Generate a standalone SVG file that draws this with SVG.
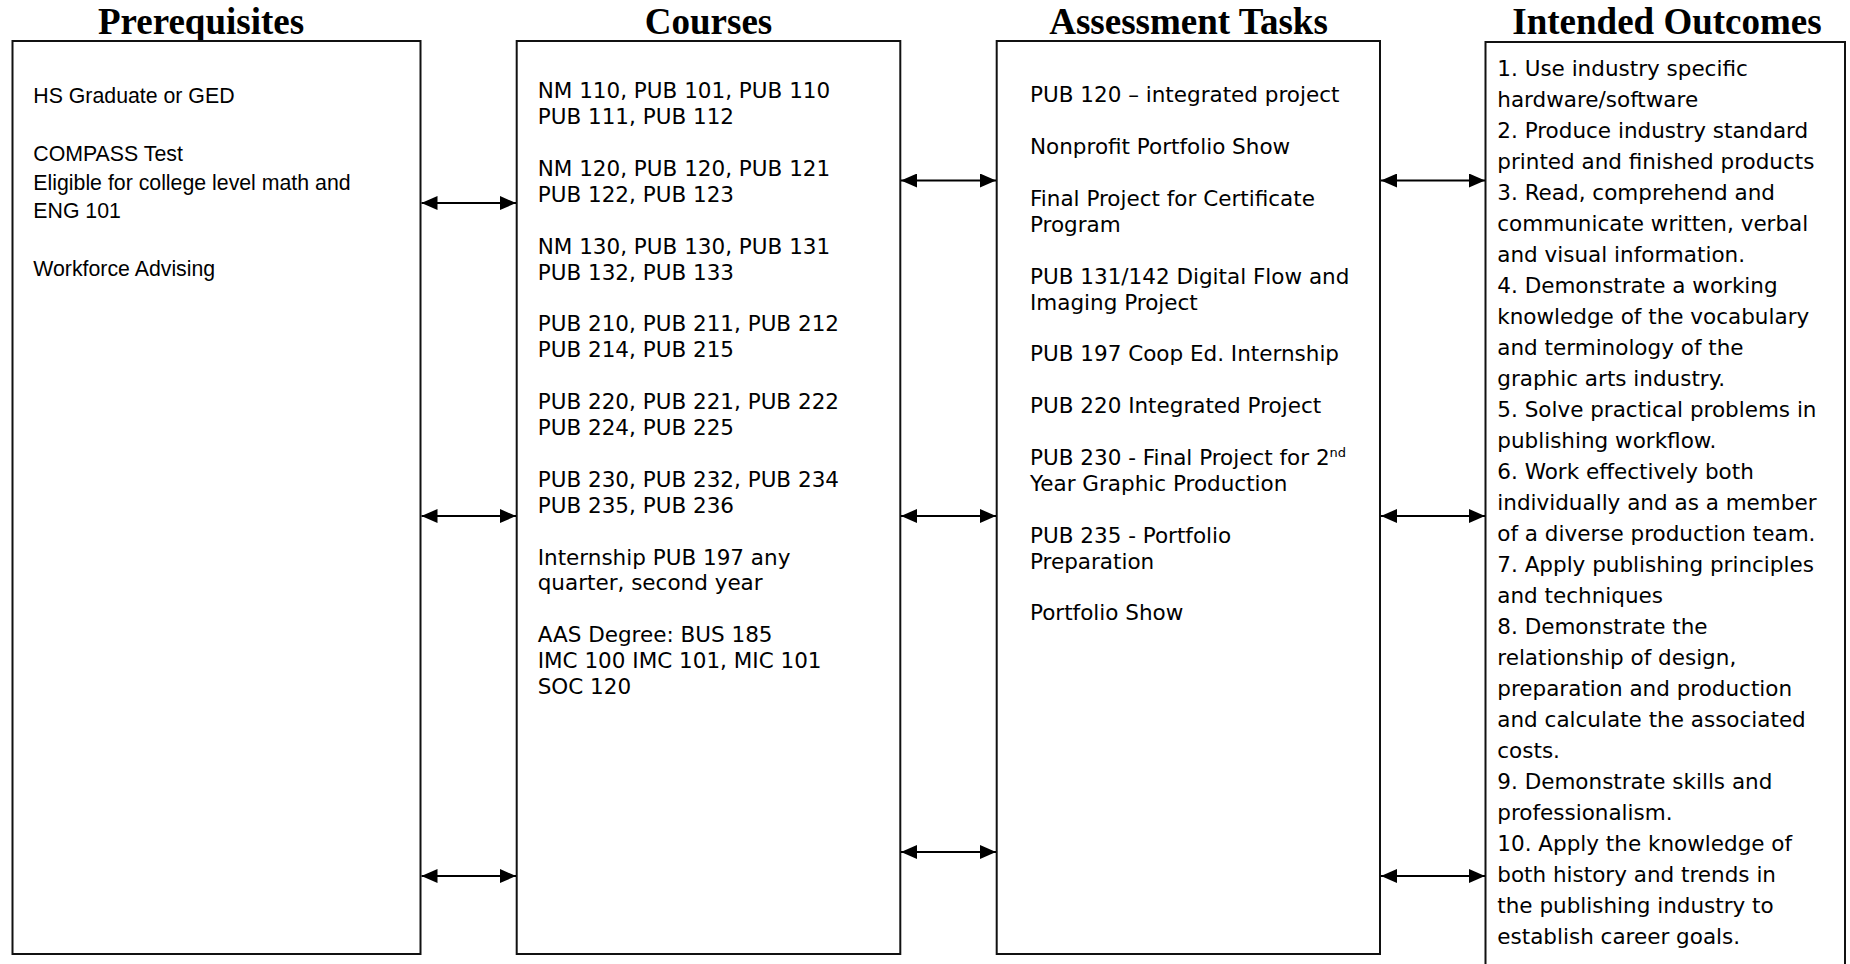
<svg xmlns="http://www.w3.org/2000/svg" width="1850" height="964" viewBox="0 0 1850 964">
<style>
.bg{fill:#fff}
.box{fill:#fff;stroke:#111;stroke-width:2}
.title{font-family:"Liberation Serif","Times New Roman",serif;font-weight:bold;font-size:37px;fill:#000;text-anchor:middle}
.arial{font-family:"Liberation Sans",Arial,sans-serif;font-size:21.3px;fill:#000}
.verd{font-family:"DejaVu Sans",Verdana,sans-serif;font-size:21.5px;fill:#000}
.sup{font-size:13px}
.conn line{stroke:#000;stroke-width:2;marker-start:url(#ah);marker-end:url(#ah)}
</style>
<defs>
<marker id="ah" viewBox="0 0 16 14" refX="16" refY="7" markerWidth="16" markerHeight="14" markerUnits="userSpaceOnUse" orient="auto-start-reverse">
<path d="M0,0 L16,7 L0,14 z" fill="#000"/>
</marker>
</defs>
<rect class="bg" x="0" y="0" width="1850" height="964"/>

<g id="prerequisites">
<text class="title" x="201" y="33.5">Prerequisites</text>
<rect class="box" x="12.5" y="41" width="408" height="913"/>
<text class="arial">
<tspan x="33.3" y="103.3">HS Graduate or GED</tspan>
<tspan x="33.3" y="160.8">COMPASS Test</tspan>
<tspan x="33.3" y="189.5">Eligible for college level math and</tspan>
<tspan x="33.3" y="218.3">ENG 101</tspan>
<tspan x="33.3" y="275.8">Workforce Advising</tspan>
</text>
</g>

<g id="courses">
<text class="title" x="708.5" y="33.5">Courses</text>
<rect class="box" x="516.7" y="41" width="383.6" height="913"/>
<text class="verd">
<tspan x="537.7" y="98.3">NM 110, PUB 101, PUB 110</tspan>
<tspan x="537.7" y="124.2">PUB 111, PUB 112</tspan>
<tspan x="537.7" y="176">NM 120, PUB 120, PUB 121</tspan>
<tspan x="537.7" y="201.9">PUB 122, PUB 123</tspan>
<tspan x="537.7" y="253.7">NM 130, PUB 130, PUB 131</tspan>
<tspan x="537.7" y="279.6">PUB 132, PUB 133</tspan>
<tspan x="537.7" y="331.4">PUB 210, PUB 211, PUB 212</tspan>
<tspan x="537.7" y="357.3">PUB 214, PUB 215</tspan>
<tspan x="537.7" y="409.1">PUB 220, PUB 221, PUB 222</tspan>
<tspan x="537.7" y="435">PUB 224, PUB 225</tspan>
<tspan x="537.7" y="486.8">PUB 230, PUB 232, PUB 234</tspan>
<tspan x="537.7" y="512.7">PUB 235, PUB 236</tspan>
<tspan x="537.7" y="564.5">Internship PUB 197 any</tspan>
<tspan x="537.7" y="590.4">quarter, second year</tspan>
<tspan x="537.7" y="642.2">AAS Degree: BUS 185</tspan>
<tspan x="537.7" y="668.1">IMC 100 IMC 101, MIC 101</tspan>
<tspan x="537.7" y="694">SOC 120</tspan>
</text>
</g>

<g id="assessment">
<text class="title" x="1188.5" y="33.5">Assessment Tasks</text>
<rect class="box" x="996.7" y="41" width="383.3" height="913"/>
<text class="verd">
<tspan x="1030" y="102.3">PUB 120 – integrated project</tspan>
<tspan x="1030" y="154.1">Nonprofit Portfolio Show</tspan>
<tspan x="1030" y="205.9">Final Project for Certificate</tspan>
<tspan x="1030" y="231.8">Program</tspan>
<tspan x="1030" y="283.6">PUB 131/142 Digital Flow and</tspan>
<tspan x="1030" y="309.5">Imaging Project</tspan>
<tspan x="1030" y="361.3">PUB 197 Coop Ed. Internship</tspan>
<tspan x="1030" y="413.1">PUB 220 Integrated Project</tspan>
<tspan x="1030" y="464.9">PUB 230 - Final Project for 2<tspan class="sup" dy="-8">nd</tspan></tspan>
<tspan x="1030" y="490.8">Year Graphic Production</tspan>
<tspan x="1030" y="542.6">PUB 235 - Portfolio</tspan>
<tspan x="1030" y="568.5">Preparation</tspan>
<tspan x="1030" y="620.3">Portfolio Show</tspan>
</text>
</g>

<g id="outcomes">
<text class="title" x="1667" y="33.5">Intended Outcomes</text>
<rect class="box" x="1485.5" y="42" width="359.5" height="940"/>
<text class="verd">
<tspan x="1497.3" y="76.3">1. Use industry specific</tspan>
<tspan x="1497.3" y="107.3">hardware/software</tspan>
<tspan x="1497.3" y="138.3">2. Produce industry standard</tspan>
<tspan x="1497.3" y="169.3">printed and finished products</tspan>
<tspan x="1497.3" y="200.3">3. Read, comprehend and</tspan>
<tspan x="1497.3" y="231.3">communicate written, verbal</tspan>
<tspan x="1497.3" y="262.3">and visual information.</tspan>
<tspan x="1497.3" y="293.3">4. Demonstrate a working</tspan>
<tspan x="1497.3" y="324.3">knowledge of the vocabulary</tspan>
<tspan x="1497.3" y="355.3">and terminology of the</tspan>
<tspan x="1497.3" y="386.3">graphic arts industry.</tspan>
<tspan x="1497.3" y="417.3">5. Solve practical problems in</tspan>
<tspan x="1497.3" y="448.3">publishing workflow.</tspan>
<tspan x="1497.3" y="479.3">6. Work effectively both</tspan>
<tspan x="1497.3" y="510.3">individually and as a member</tspan>
<tspan x="1497.3" y="541.3">of a diverse production team.</tspan>
<tspan x="1497.3" y="572.3">7. Apply publishing principles</tspan>
<tspan x="1497.3" y="603.3">and techniques</tspan>
<tspan x="1497.3" y="634.3">8. Demonstrate the</tspan>
<tspan x="1497.3" y="665.3">relationship of design,</tspan>
<tspan x="1497.3" y="696.3">preparation and production</tspan>
<tspan x="1497.3" y="727.3">and calculate the associated</tspan>
<tspan x="1497.3" y="758.3">costs.</tspan>
<tspan x="1497.3" y="789.3">9. Demonstrate skills and</tspan>
<tspan x="1497.3" y="820.3">professionalism.</tspan>
<tspan x="1497.3" y="851.3">10. Apply the knowledge of</tspan>
<tspan x="1497.3" y="882.3">both history and trends in</tspan>
<tspan x="1497.3" y="913.3">the publishing industry to</tspan>
<tspan x="1497.3" y="944.3">establish career goals.</tspan>
</text>
</g>

<g id="connectors" class="conn">
<line x1="421.5" y1="203" x2="516" y2="203"/>
<line x1="421.5" y1="516" x2="516" y2="516"/>
<line x1="421.5" y1="876" x2="516" y2="876"/>
<line x1="901" y1="180.5" x2="996" y2="180.5"/>
<line x1="901" y1="516" x2="996" y2="516"/>
<line x1="901" y1="852" x2="996" y2="852"/>
<line x1="1381" y1="180.5" x2="1485" y2="180.5"/>
<line x1="1381" y1="516" x2="1485" y2="516"/>
<line x1="1381" y1="876" x2="1485" y2="876"/>
</g>
</svg>
